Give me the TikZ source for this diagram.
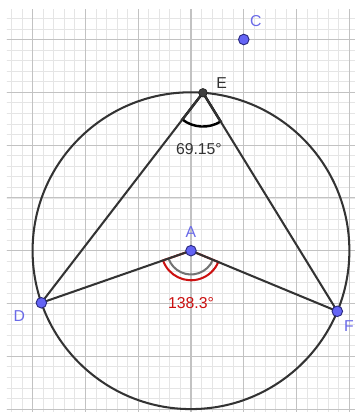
\documentclass[tikz,border=0pt]{standalone}
\usepackage{fontspec}
\setmainfont{Liberation Sans}
\usetikzlibrary{calc}
\begin{document}
\begin{tikzpicture}[
  x=1cm,y=1cm,
  ptblue/.style={circle,fill=ptfill,draw=ptedge,line width=0.5pt,inner sep=0pt,minimum size=0.2cm},
  ptdark/.style={circle,fill=black!75,draw=black!85,line width=0.4pt,inner sep=0pt,minimum size=0.16cm},
  lbl/.style={text=lblblue,font=\fontsize{8.5}{10}\selectfont,inner sep=0pt},
  seg/.style={draw=black!80,line width=1.1pt},
]
\definecolor{ptfill}{HTML}{6464F5}
\definecolor{ptedge}{HTML}{2A2A80}
\definecolor{lblblue}{HTML}{6A6AE8}
\definecolor{angred}{HTML}{CC1010}
\useasboundingbox (-3.617,-3.055) rectangle (3.106,4.748);
\fill[white] (-3.617,-3.055) rectangle (3.106,4.748);
% grid
\begin{scope}
\clip (-3.485,-3.055) rectangle (3.106,4.56);
\draw[black!10,line width=0.4pt,step=0.2] (-3.6,-3.2) grid (3.2,4.6);
\draw[black!24,line width=0.6pt,step=1] (-4,-4) grid (4,5);
\end{scope}
% points
\coordinate (A) at (0,0);
\coordinate (E) at (85.66:3);
\coordinate (D) at (199.2:3);
\coordinate (F) at (337.5:3);
\coordinate (C) at (1,4);
% circle
\draw[black!80,line width=1.1pt] (A) circle (3);
% angle at A (red sector outline + gray inner arc)
\draw[angred,line width=1.1pt] (A) -- ($(A)+(199.2:0.56)$) arc (199.2:337.5:0.56) -- cycle;
\draw[black!55,line width=1.1pt] ($(A)+(199.2:0.45)$) arc (199.2:337.5:0.45);
% angle at E
\draw[black,line width=1.3pt] (E) -- ($(E)+(232.4:0.64)$) arc (232.4:301.6:0.64) -- cycle;
% segments
\draw[seg] (D) -- (E) -- (F);
\draw[seg] (D) -- (A) -- (F);
% nodes
\node[ptblue] (nA) at (A) {};
\node[ptblue] (nD) at (D) {};
\node[ptblue] (nF) at (F) {};
\node[ptblue] (nC) at (C) {};
\node[ptdark] (nE) at (E) {};
% labels
\node[lbl] (lC) at (1.23,4.34) {C};
\node[lbl,text=black!80] (lE) at (0.58,3.17) {E};
\node[lbl] (lA) at (0,0.36) {A};
\node[lbl] (lD) at (-3.25,-1.24) {D};
\node[lbl] (lF) at (2.99,-1.43) {F};
\node[font=\fontsize{8.5}{10}\selectfont,text=black!80,inner sep=0pt] (t1) at (0.15,1.93) {69.15°};
\node[font=\fontsize{8.5}{10}\selectfont,text=angred,inner sep=0pt] (t2) at (0,-1.0) {138.3°};
\end{tikzpicture}
\end{document}
